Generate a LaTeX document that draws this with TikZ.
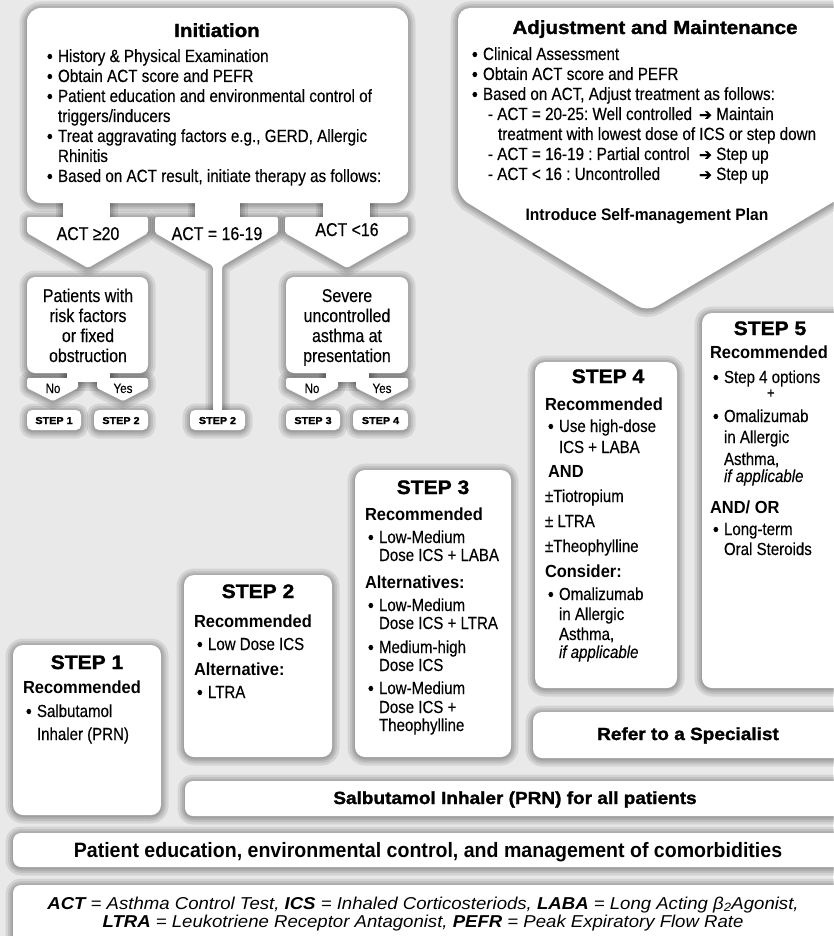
\documentclass[tikz,border=0pt]{standalone}
\usepackage{fontspec}
\setmainfont{Liberation Sans}[FakeStretch=0.86,FakeBold=0.3]
\newfontfamily\cbf{Liberation Sans}[FakeStretch=0.94]
\newfontfamily\hvy{Liberation Sans Bold}[FakeStretch=1.08,FakeBold=1.5]
\newfontfamily\abf{Liberation Sans}[FakeStretch=1.08]
\newfontfamily\symf{DejaVu Sans}[FakeBold=1]
\frenchspacing

\definecolor{bgc}{HTML}{E9E9E9}

% list helpers
\newcommand\bul{\raisebox{-0.8pt}{\fontsize{19}{18}\selectfont\textbullet}}
\newcommand\itm[1]{\par\hangindent=14pt\hangafter=1\noindent\hspace*{3pt}\makebox[11pt][l]{\bul}#1\par}
\newcommand\hd[1]{\par\noindent{\cbf\bfseries #1}\par}
\newcommand\lne[1]{\par\noindent #1\par}
\newcommand\gp[1]{\vspace{#1pt}}
\newcommand\blk[2]{\begin{minipage}[t]{#1}#2\end{minipage}}
\newcommand\cblk[2]{\begin{minipage}[t]{#1}\centering #2\end{minipage}}
\newcommand\arr{{\symf\fontsize{15.5}{14}\selectfont ➔}}

% every white panel of the chart
\newcommand\allshapes[1]{%
  % initiation panel with its three branches
  \path[#1, rounded corners=14pt] (27,8) rectangle (408,203);
  \path[#1] (63,195) rectangle (110,222);
  \path[#1] (195,195) rectangle (240,222);
  \path[#1] (323,195) rectangle (370,222);
  \path[#1, rounded corners=2pt] (27,217) -- (148,217) -- (148,233) -- (88,268) -- (27,233) -- cycle;
  \path[#1, rounded corners=2pt] (155,217) -- (278,217) -- (278,233) -- (222,266) -- (222,412) -- (213,412) -- (213,266) -- (155,233) -- cycle;
  \path[#1, rounded corners=2pt] (285,217) -- (408,217) -- (408,233) -- (347,268) -- (285,233) -- cycle;
  % decision boxes with yes/no branches
  \path[#1, rounded corners=8pt] (27,277) rectangle (148,373);
  \path[#1] (67,368) rectangle (110,382);
  \path[#1, rounded corners=1.5pt] (27,378) -- (78,378) -- (78,388) -- (53,401) -- (27,388) -- cycle;
  \path[#1, rounded corners=1.5pt] (97,378) -- (148,378) -- (148,388) -- (123,401) -- (97,388) -- cycle;
  \path[#1, rounded corners=8pt] (286,277) rectangle (408,373);
  \path[#1] (326,368) rectangle (369,382);
  \path[#1, rounded corners=1.5pt] (286,378) -- (338,378) -- (338,388) -- (312,401) -- (286,388) -- cycle;
  \path[#1, rounded corners=1.5pt] (356,378) -- (408,378) -- (408,388) -- (382,401) -- (356,388) -- cycle;
  % small step tags
  \path[#1, rounded corners=5pt] (27,410) rectangle (81,430);
  \path[#1, rounded corners=5pt] (94,410) rectangle (148,430);
  \path[#1, rounded corners=5pt] (190,410) rectangle (245,430);
  \path[#1, rounded corners=5pt] (286,410) rectangle (340,430);
  \path[#1, rounded corners=5pt] (353,410) rectangle (408,430);
  % adjustment and maintenance pentagon
  \path[#1, rounded corners=12pt] (458,8) -- (845,8) -- (845,195) -- (647,312) -- (458,197) -- cycle;
  % step panels
  \path[#1, rounded corners=10pt] (13,645) rectangle (161,815);
  \path[#1, rounded corners=10pt] (184,575) rectangle (332,757);
  \path[#1, rounded corners=10pt] (355,470) rectangle (511,757);
  \path[#1, rounded corners=10pt] (535,362) rectangle (677,688);
  \path[#1, rounded corners=10pt] (702,313) rectangle (850,688);
  % bars
  \path[#1, rounded corners=9pt] (533,712) rectangle (850,758);
  \path[#1, rounded corners=8pt] (185,781) rectangle (850,816);
  \path[#1, rounded corners=8pt] (13,833) rectangle (850,867);
  \path[#1, rounded corners=8pt] (13,885) rectangle (850,960);
}

\begin{document}
\begin{tikzpicture}[x=1pt,y=-1pt,
  txt/.style={inner sep=0pt, outer sep=0pt, text=black},
  body/.style={txt, anchor=base west, font=\fontsize{17.5}{18}\selectfont},
  bodyw/.style={txt, anchor=base west, font=\fontsize{17.7}{20}\selectfont},
  lbl/.style={txt, anchor=base, font=\fontsize{18.5}{20}\selectfont},
  ttl/.style={txt, anchor=base, font=\hvy\fontsize{19}{22}\selectfont},
  stp/.style={txt, anchor=base, font=\hvy\fontsize{19.5}{22}\selectfont},
  tag/.style={txt, anchor=base, font=\hvy\fontsize{10}{12}\selectfont},
  yn/.style={txt, anchor=base, font=\fontsize{13.5}{14}\selectfont},
  barw/.style={txt, anchor=base, font=\hvy\fontsize{17.6}{20}\selectfont},
  barc/.style={txt, anchor=base, font=\cbf\bfseries\fontsize{20.8}{24}\selectfont},
  plan/.style={txt, anchor=base, font=\cbf\bfseries\fontsize{16.6}{20}\selectfont},
  abbr/.style={txt, anchor=base, font=\abf\itshape\fontsize{17.2}{18}\selectfont},
  shade/.style={draw=black, draw opacity=0.085, line join=round, yshift=-1pt}]

\useasboundingbox (0,0) rectangle (833,936);
\fill[bgc] (0,0) rectangle (833,936);

% soft shadows, then the white panels on top
\foreach \lw in {15,10,6,2.5} {\allshapes{shade, line width=\lw pt}}
\allshapes{fill=white}

% ---------- initiation ----------
\node[ttl] (inittitle) at (217,37) {Initiation};
\node[bodyw] (initlist) at (44,62) {\blk{375pt}{%
  \itm{History \& Physical Examination}
  \itm{Obtain ACT score and PEFR}
  \itm{Patient education and environmental control of\\triggers/inducers}
  \itm{Treat aggravating factors e.g., GERD, Allergic\\Rhinitis}
  \itm{Based on ACT result, initiate therapy as follows:}}};

\node[lbl] (act20) at (88,240) {ACT ≥20};
\node[lbl] (act16) at (217,240) {ACT = 16-19};
\node[lbl] (actlt) at (347,236) {ACT <16};

\node[lbl] (risk) at (88,302) {\cblk{120pt}{Patients with\\risk factors\\or fixed\\obstruction}};
\node[lbl] (severe) at (347,302) {\cblk{120pt}{Severe\\uncontrolled\\asthma at\\presentation}};

\node[yn] (no1) at (53,393) {No};
\node[yn] (yes1) at (123,393) {Yes};
\node[yn] (no2) at (312,393) {No};
\node[yn] (yes2) at (382,393) {Yes};

\node[tag] (tag1) at (54,424) {STEP 1};
\node[tag] (tag2) at (121,424) {STEP 2};
\node[tag] (tag2b) at (217.5,424) {STEP 2};
\node[tag] (tag3) at (313,424) {STEP 3};
\node[tag] (tag4) at (380.5,424) {STEP 4};

% ---------- adjustment and maintenance ----------
\node[ttl] (adjtitle) at (655,34) {Adjustment and Maintenance};
\node[bodyw] (adjlist) at (469,60) {\blk{380pt}{%
  \itm{Clinical Assessment}
  \itm{Obtain ACT score and PEFR}
  \itm{Based on ACT, Adjust treatment as follows:}
  \lne{\hspace*{19pt}- ACT = 20-25: Well controlled\hspace{7pt}\arr\ Maintain}
  \lne{\hspace*{29pt}treatment with lowest dose of ICS or step down}
  \lne{\hspace*{19pt}\makebox[211pt][l]{- ACT = 16-19 : Partial control}\arr\ Step up}
  \lne{\hspace*{19pt}\makebox[211pt][l]{- ACT < 16 : Uncontrolled}\arr\ Step up}}};
\node[plan] (selfplan) at (647,220) {Introduce Self-management Plan};

% ---------- steps ----------
\node[stp] (s1t) at (87,669) {STEP 1};
\node[body] (s1b) at (23,693) {\blk{135pt}{%
  \hd{Recommended}\gp{6}
  \itm{Salbutamol\\[5pt]Inhaler (PRN)}}};

\node[stp] (s2t) at (258,598) {STEP 2};
\node[body] (s2b) at (194,627) {\blk{135pt}{%
  \hd{Recommended}\gp{5}
  \itm{Low Dose ICS}\gp{7}
  \hd{Alternative:}\gp{5}
  \itm{LTRA}}};

\node[stp] (s3t) at (433,494) {STEP 3};
\node[body] (s3b) at (365,520) {\blk{145pt}{%
  \hd{Recommended}\gp{5}
  \itm{Low-Medium\\Dose ICS + LABA}\gp{9}
  \hd{Alternatives:}\gp{5}
  \itm{Low-Medium\\Dose ICS + LTRA}\gp{6}
  \itm{Medium-high\\Dose ICS}\gp{5}
  \itm{Low-Medium\\[1pt]Dose ICS +\\Theophylline}}};

\node[stp] (s4t) at (608,383) {STEP 4};
\node[body] (s4b) at (545,410) {\blk{130pt}{%
  \hd{Recommended}\gp{4}
  \itm{Use high-dose\\[3pt]ICS + LABA}\gp{6}
  \hd{\hspace*{3pt}AND}\gp{7}
  \lne{±Tiotropium}\gp{7}
  \lne{± LTRA}\gp{7}
  \lne{±Theophylline}\gp{7}
  \hd{Consider:}\gp{5}
  \itm{Omalizumab\\[2pt]in Allergic\\[2pt]Asthma,\\ \textit{if applicable}}}};

\node[stp] (s5t) at (770,335) {STEP 5};
\node[body] (s5b) at (710,358) {\blk{130pt}{%
  \hd{Recommended}\gp{7}
  \itm{Step 4 options}\gp{-3}
  \lne{\hspace*{57pt}{\fontsize{15}{18}\selectfont +}}\gp{6}
  \itm{Omalizumab\\[3pt]in Allergic\\[4pt]Asthma,\\[-1pt]\textit{if applicable}}\gp{13}
  \hd{AND/ OR}\gp{4}
  \itm{Long-term\\[2pt]Oral Steroids}}};

% ---------- bars ----------
\node[barw] (refer) at (688,740) {Refer to a Specialist};
\node[barw] (salb) at (515,804) {Salbutamol Inhaler (PRN) for all patients};
\node[barc] (educ) at (428,857) {Patient education, environmental control, and management of comorbidities};
\node[abbr] (abbr1) at (423,909) {\textbf{ACT} = Asthma Control Test, \textbf{ICS} = Inhaled Corticosteriods, \textbf{LABA} = Long Acting β\textsubscript{2}Agonist,};
\node[abbr] (abbr2) at (423,927) {\textbf{LTRA} = Leukotriene Receptor Antagonist, \textbf{PEFR} = Peak Expiratory Flow Rate};
\end{tikzpicture}
\end{document}
